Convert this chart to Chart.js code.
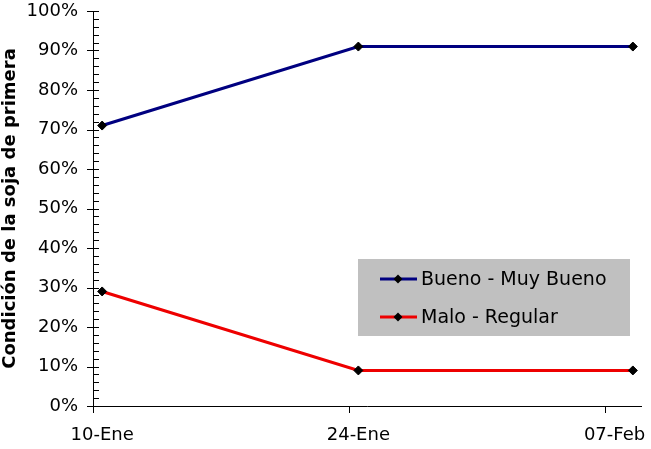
<!DOCTYPE html>
<html>
<head>
<meta charset="utf-8">
<script src="https://cdn.jsdelivr.net/npm/chart.js@4/dist/chart.umd.min.js"></script>
<style>
  html, body { margin: 0; padding: 0; background: #fff; }
  canvas { display: block; }
</style>
</head>
<body>
<canvas id="chart" width="651" height="449"></canvas>
<script>
"use strict";
// fechas de las observaciones
const fechas = ["2024-01-10", "2024-01-24", "2024-02-08"];
const bueno = [71, 91, 91]; // Bueno - Muy Bueno (%)
const malo = [29, 9, 9];    // Malo - Regular (%)
const etiquetasX = ["2024-01-10", "2024-01-24", "2024-02-07"];
const diasEje = 30;
const meses = ["Ene", "Feb", "Mar", "Abr", "May", "Jun", "Jul", "Ago", "Sep", "Oct", "Nov", "Dic"];

const inicio = Date.parse(fechas[0] + "T00:00:00Z");
const dia = (f) => (Date.parse(f + "T00:00:00Z") - inicio) / 86400000;
const rotulo = (f) => {
    const d = new Date(f + "T00:00:00Z");
    return String(d.getUTCDate()).padStart(2, "0") + "-" + meses[d.getUTCMonth()];
};
const FONT = "'DejaVu Sans', Verdana, sans-serif";

const serie = (vals) => vals.map((v, i) => ({ x: dia(fechas[i]) + 0.5, y: v }));

const ejesPlugin = {
    id: "ejes",
    afterDraw(chart) {
        const ctx = chart.ctx;
        const { left, right, top, bottom } = chart.chartArea;
        const y = chart.scales.y, x = chart.scales.x;
        ctx.save();
        ctx.strokeStyle = "#000";
        ctx.lineWidth = 1;
        ctx.beginPath();
        ctx.moveTo(left + 0.5, top);
        ctx.lineTo(left + 0.5, bottom + 0.5);
        ctx.lineTo(right, bottom + 0.5);
        for (let v = 0; v <= 100; v += 2) {
            const py = Math.round(y.getPixelForValue(v)) + 0.5;
            if (v % 10 === 0) {
                ctx.moveTo(left - 6, py);
                ctx.lineTo(left + 6, py);
            } else {
                ctx.moveTo(left, py);
                ctx.lineTo(left + 6, py);
            }
        }
        etiquetasX.forEach((f) => {
            const px = Math.round(x.getPixelForValue(dia(f))) + 0.5;
            ctx.moveTo(px, bottom);
            ctx.lineTo(px, bottom + 7);
        });
        ctx.stroke();

        // leyenda
        const lx = 358, ly = 259, lw = 272, lh = 77;
        ctx.fillStyle = "#c0c0c0";
        ctx.fillRect(lx, ly, lw, lh);
        chart.data.datasets.forEach((ds, i) => {
            const cy = ly + 20 + i * 38;
            ctx.strokeStyle = ds.borderColor;
            ctx.lineWidth = 3;
            ctx.beginPath();
            ctx.moveTo(380, cy);
            ctx.lineTo(417, cy);
            ctx.stroke();
            ctx.fillStyle = "#000";
            ctx.beginPath();
            ctx.moveTo(398, cy - 4.5);
            ctx.lineTo(402.5, cy);
            ctx.lineTo(398, cy + 4.5);
            ctx.lineTo(393.5, cy);
            ctx.closePath();
            ctx.fill();
            ctx.font = "19px " + FONT;
            ctx.textBaseline = "middle";
            ctx.fillText(ds.label, 421, cy + 1);
        });
        ctx.restore();
    }
};

new Chart(document.getElementById("chart"), {
    type: "line",
    data: {
        datasets: [
            {
                label: "Bueno - Muy Bueno",
                data: serie(bueno),
                borderColor: "#000080",
                borderWidth: 3,
                pointStyle: "rectRot",
                pointRadius: 4.5,
                pointBackgroundColor: "#000",
                pointBorderColor: "#000",
                pointBorderWidth: 1,
                tension: 0
            },
            {
                label: "Malo - Regular",
                data: serie(malo),
                borderColor: "#ee0000",
                borderWidth: 3,
                pointStyle: "rectRot",
                pointRadius: 4.5,
                pointBackgroundColor: "#000",
                pointBorderColor: "#000",
                pointBorderWidth: 1,
                tension: 0
            }
        ]
    },
    options: {
        responsive: false,
        animation: false,
        layout: { padding: { top: 11, right: 9, left: 0, bottom: 0 } },
        plugins: { legend: { display: false }, tooltip: { enabled: false } },
        scales: {
            x: {
                type: "linear",
                min: 0,
                max: diasEje,
                afterFit: (s) => { s.height = 43; s.paddingLeft = 0; s.paddingRight = 0; },
                afterBuildTicks: (s) => {
                    s.ticks = etiquetasX.map((f) => ({ value: dia(f) + 0.5, label: rotulo(f) }));
                },
                ticks: {
                    autoSkip: false,
                    maxRotation: 0,
                    padding: 19,
                    color: "#000",
                    font: { family: FONT, size: 18 },
                    callback: function (v, i) { return rotulo(etiquetasX[i]); }
                },
                grid: { display: false, drawTicks: false },
                border: { display: false }
            },
            y: {
                min: 0,
                max: 100,
                afterFit: (s) => { s.width = 93; s.paddingTop = 0; s.paddingBottom = 0; },
                ticks: {
                    stepSize: 10,
                    padding: 15,
                    color: "#000",
                    font: { family: FONT, size: 18 },
                    callback: (v) => v + "%"
                },
                grid: { display: false, drawTicks: false },
                border: { display: false },
                title: {
                    display: true,
                    text: "Condición de la soja de primera",
                    color: "#000",
                    font: { family: FONT, size: 18, weight: "bold" },
                    padding: { top: 0, bottom: 0 }
                }
            }
        }
    },
    plugins: [ejesPlugin]
});
</script>
</body>
</html>
